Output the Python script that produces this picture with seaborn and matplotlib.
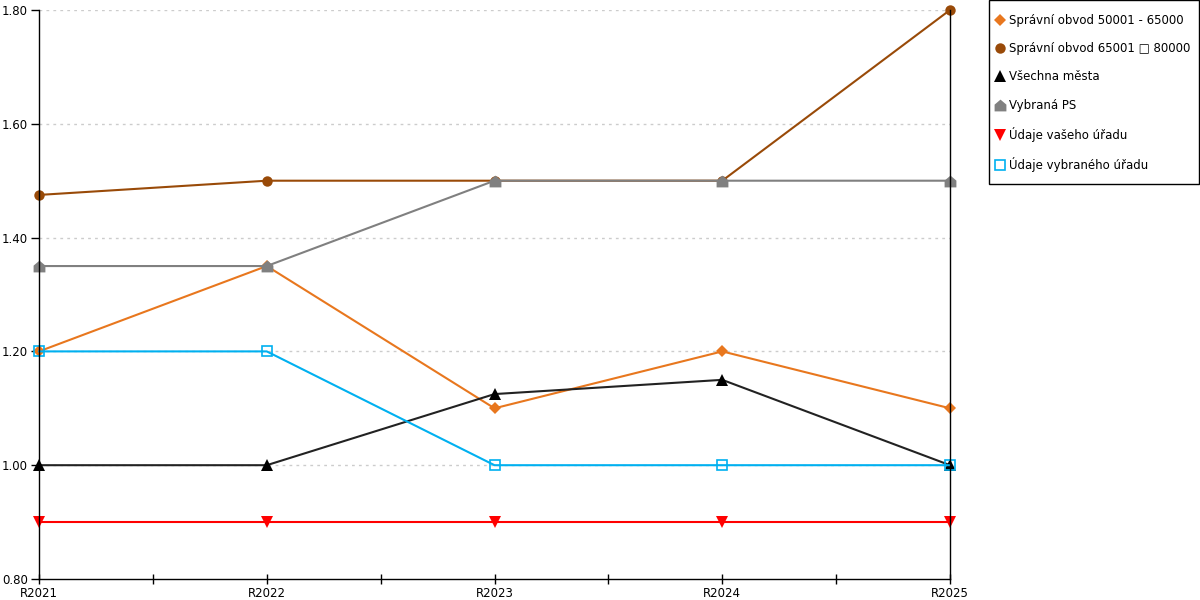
import matplotlib
matplotlib.use("Agg")
import matplotlib.pyplot as plt
from matplotlib.path import Path
from matplotlib.lines import Line2D
from matplotlib.patches import Rectangle
import seaborn as sns
import pandas as pd

years = ["R2021", "R2022", "R2023", "R2024", "R2025"]
series_names = [
    "Správní obvod 50001 - 65000",
    "Správní obvod 65001 \u25a1 80000",
    "Všechna města",
    "Vybraná PS",
    "Údaje vašeho úřadu",
    "Údaje vybraného úřadu",
]
obvod_50_65 = [1.20, 1.35, 1.10, 1.20, 1.10]
obvod_65_80 = [1.475, 1.50, 1.50, 1.50, 1.80]
vsechna_mesta = [1.00, 1.00, 1.125, 1.15, 1.00]
vybrana_ps = [1.35, 1.35, 1.50, 1.50, 1.50]
vas_urad = [0.90, 0.90, 0.90, 0.90, 0.90]
vybrany_urad = [1.20, 1.20, 1.00, 1.00, 1.00]
yticks = [0.80, 1.00, 1.20, 1.40, 1.60, 1.80]

values = [obvod_50_65, obvod_65_80, vsechna_mesta, vybrana_ps, vas_urad, vybrany_urad]
colors = ["#E8771E", "#994A08", "#000000", "#808080", "#FF0000", "#00B0F0"]
house = Path([(-1, -1), (1, -1), (1, 0.15), (0, 1), (-1, 0.15), (-1, -1)],
             [Path.MOVETO, Path.LINETO, Path.LINETO, Path.LINETO, Path.LINETO, Path.CLOSEPOLY])
markers = ["D", "o", "^", house, "v", "s"]
msizes = [6, 7.5, 8, 8.5, 8, 7]
filled = [True, True, True, True, True, False]
line_colors = ["#E8771E", "#994A08", "#222222", "#808080", "#FF0000", "#00B0F0"]

sns.set_style("white")
plt.rcParams["font.family"] = ["DejaVu Sans"]
plt.rcParams["text.color"] = "black"
plt.rcParams["xtick.color"] = "black"
plt.rcParams["ytick.color"] = "black"

fig = plt.figure(figsize=(12, 6), dpi=100)
ax = fig.add_axes([39 / 1200, 21 / 600, (950 - 39) / 1200, (579 - 10) / 600])

for name, vals, c, lc, m, ms, f in zip(series_names, values, colors, line_colors, markers, msizes, filled):
    df = pd.DataFrame({"year": years, "value": vals})
    sns.lineplot(data=df, x="year", y="value", ax=ax, color=lc, linewidth=1.5,
                 marker=m, markersize=ms, markerfacecolor=(c if f else "none"),
                 markeredgecolor=c, markeredgewidth=(0 if f else 1.2), clip_on=False,
                 label=None, legend=False)

ax.set_xlim(0, 4)
ax.set_ylim(0.80, 1.80)
ax.set_yticks(yticks)
ax.set_yticklabels([f"{v:.2f}" for v in yticks])
ax.set_xticks(range(len(years)))
ax.set_xticklabels(years)
ax.set_xticks([0.5, 1.5, 2.5, 3.5], minor=True)
ax.set_xlabel("")
ax.set_ylabel("")
for y in yticks[1:]:
    ax.axhline(y, color="#CCCCCC", linewidth=1, linestyle=(0, (2, 3)), zorder=0)

ax.spines["top"].set_visible(False)
for s in ["left", "right", "bottom"]:
    ax.spines[s].set_visible(True)
    ax.spines[s].set_color("black")
    ax.spines[s].set_linewidth(1)

ax.tick_params(axis="y", which="major", direction="out", length=6, width=1, color="black",
               labelsize=8.5, pad=2, left=True, labelcolor="black")
ax.tick_params(axis="x", which="both", direction="inout", length=7, width=1, color="black",
               labelsize=8.5, pad=2.5, bottom=True, labelcolor="black")

handles = []
for c, m, ms, f in zip(colors, markers, msizes, filled):
    handles.append(Line2D([], [], linestyle="none", marker=m, markersize=ms,
                          markerfacecolor=(c if f else "none"), markeredgecolor=c,
                          markeredgewidth=(0 if f else 1.2)))
leg = fig.legend(handles, series_names, loc="upper left",
                 bbox_to_anchor=(995 / 1200, 586 / 600), bbox_transform=fig.transFigure,
                 frameon=False, fontsize=8.5, handlelength=0.8,
                 handletextpad=0.4, labelspacing=1.29, borderpad=0, borderaxespad=0)
fig.patches.append(Rectangle((988.5 / 1200, 416 / 600), 210 / 1200, 183.5 / 600,
                             transform=fig.transFigure, fill=False,
                             edgecolor="black", linewidth=1))

fig.savefig("out.png", dpi=100)
